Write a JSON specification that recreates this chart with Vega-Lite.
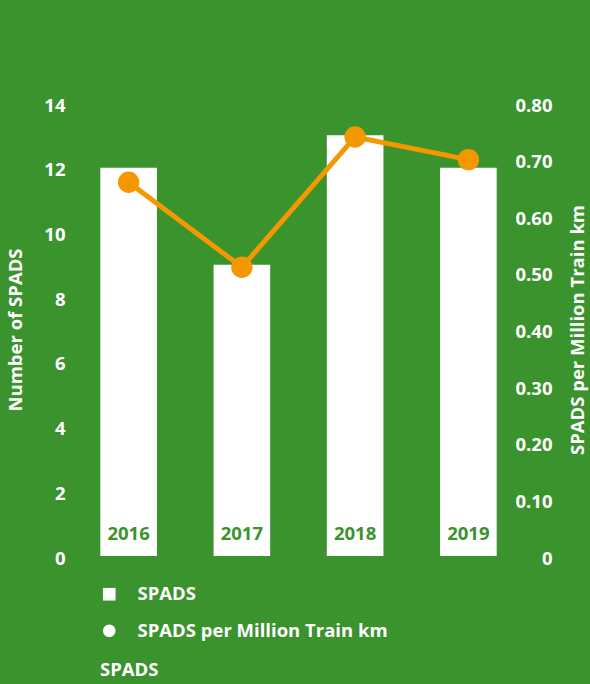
{
  "$schema": "https://vega.github.io/schema/vega-lite/v6.json",
  "width": 453,
  "height": 453,
  "autosize": "none",
  "padding": {"left": 72, "top": 103, "right": 65, "bottom": 128},
  "background": "#3a932d",
  "config": {
    "view": {"stroke": null},
    "font": "Open Sans",
    "axis": {"labelFont": "Open Sans", "titleFont": "Open Sans"}
  },
  "data": {
    "values": [
      {"year": "2016", "spads": 12, "rate": 0.66},
      {"year": "2017", "spads": 9, "rate": 0.51},
      {"year": "2018", "spads": 13, "rate": 0.74},
      {"year": "2019", "spads": 12, "rate": 0.70}
    ]
  },
  "encoding": {
    "x": {
      "field": "year",
      "type": "nominal",
      "scale": {"paddingInner": 0.5, "paddingOuter": 0.25},
      "axis": null
    }
  },
  "layer": [
    {
      "layer": [
        {
          "mark": {"type": "bar"},
          "encoding": {
            "y": {
              "field": "spads",
              "type": "quantitative",
              "scale": {"domain": [0, 14]},
              "axis": {
                "title": "Number of SPADS",
                "values": [0, 2, 4, 6, 8, 10, 12, 14],
                "grid": false,
                "domain": false,
                "ticks": false,
                "labelPadding": 7,
                "labelOffset": 2,
                "labelColor": "white",
                "labelFontSize": 18.5,
                "labelFontWeight": "bold",
                "titleColor": "white",
                "titleFontSize": 18.5,
                "titleFontWeight": "bold",
                "titlePadding": 18
              }
            },
            "color": {
              "datum": "SPADS",
              "type": "nominal",
              "scale": {
                "domain": ["SPADS", "SPADS per Million Train km"],
                "range": ["#ffffff", "#ffffff"]
              },
              "legend": {
                "orient": "none",
                "legendX": 28,
                "legendY": 482,
                "title": "SPADS",
                "titleOrient": "bottom",
                "titleAnchor": "start",
                "titleColor": "white",
                "titleFont": "Open Sans",
                "titleFontSize": 18.5,
                "titleFontWeight": "bold",
                "titlePadding": 21,
                "labelColor": "white",
                "labelFont": "Open Sans",
                "labelFontSize": 18.5,
                "labelFontWeight": "bold",
                "labelOffset": 19,
                "labelLimit": 0,
                "rowPadding": 17.5,
                "symbolSize": 160,
                "encode": {
                  "symbols": {
                    "update": {
                      "shape": {"signal": "datum.value === 'SPADS' ? 'square' : 'circle'"}
                    }
                  }
                }
              }
            }
          }
        },
        {
          "mark": {
            "type": "text",
            "color": "#3a932d",
            "font": "Open Sans",
            "fontSize": 18.5,
            "fontWeight": "bold",
            "dy": -22
          },
          "encoding": {
            "y": {"datum": 0, "type": "quantitative"},
            "text": {"field": "year"}
          }
        }
      ]
    },
    {
      "layer": [
        {
          "mark": {"type": "line", "strokeWidth": 5, "color": "#f39800"},
          "encoding": {
            "y": {
              "field": "rate",
              "type": "quantitative",
              "scale": {"domain": [0, 0.8]},
              "axis": {
                "orient": "right",
                "title": "SPADS per Million Train km",
                "values": [0, 0.1, 0.2, 0.3, 0.4, 0.5, 0.6, 0.7, 0.8],
                "labelExpr": "datum.value === 0 ? '0' : format(datum.value, '.2f')",
                "grid": false,
                "domain": false,
                "ticks": false,
                "labelAlign": "right",
                "labelPadding": 27,
                "labelOffset": 2,
                "labelColor": "white",
                "labelFontSize": 18.5,
                "labelFontWeight": "bold",
                "titleColor": "white",
                "titleFontSize": 18.5,
                "titleFontWeight": "bold",
                "titleAngle": 270,
                "titlePadding": 35
              }
            }
          }
        },
        {
          "mark": {"type": "point", "filled": true, "size": 460, "opacity": 1, "color": "#f39800"},
          "encoding": {
            "y": {"field": "rate", "type": "quantitative"}
          }
        }
      ]
    }
  ],
  "resolve": {"scale": {"y": "independent"}}
}
